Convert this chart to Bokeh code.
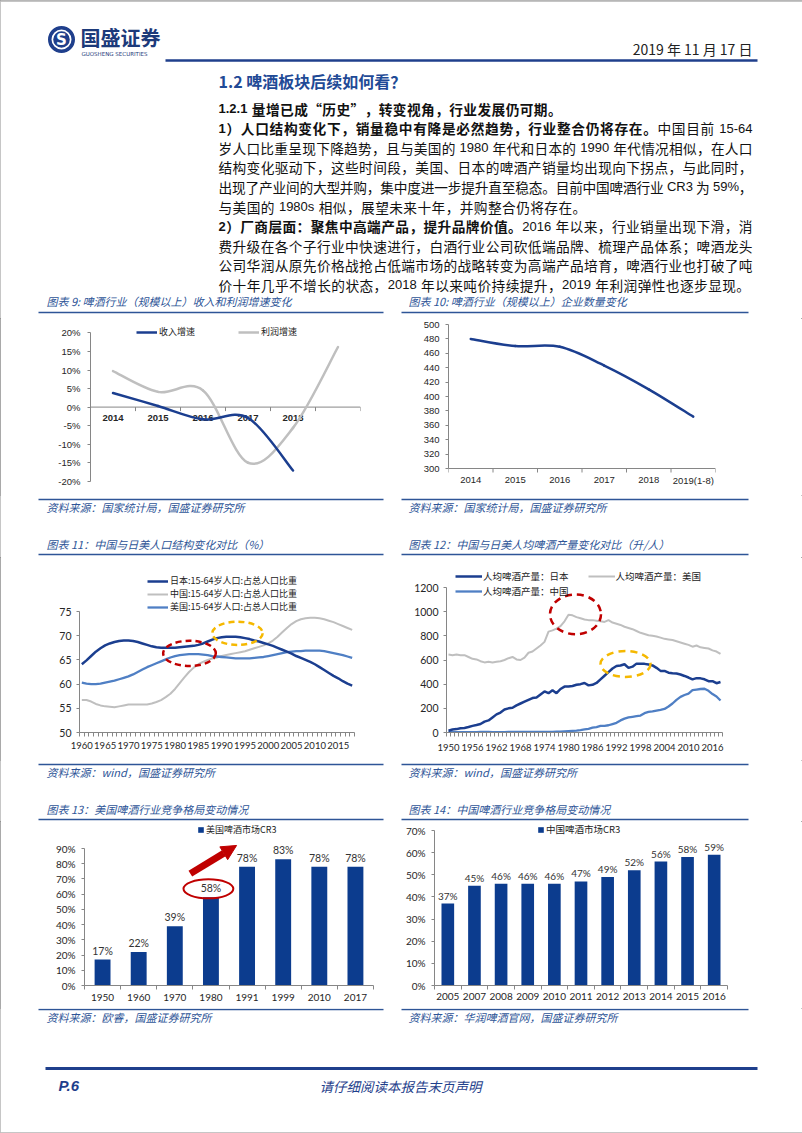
import re
from bokeh.plotting import figure
from bokeh.models import (Range1d, FixedTicker, Span, Legend, LegendItem, Arrow,
                          NormalHead, PrintfTickFormatter)
from bokeh.layouts import column, row
from bokeh.embed import file_html
from bokeh.resources import INLINE
from bokeh.core.properties import value

# ============================ DATA ============================
C9_CATS = ["2014", "2015", "2016", "2017", "2018", ""]
C9_REVENUE = [3.8, 0.3, -3.3, -2.9, -17.1]
C9_PROFIT = [9.7, 4.1, 4.5, -15.0, -5.6, 16.2]
C9_YTICKS = [-20, -15, -10, -5, 0, 5, 10, 15, 20]

C10_CATS = ["2014", "2015", "2016", "2017", "2018", "2019(1-8)"]
C10_FIRMS = [480, 470, 469, 443, 410, 372]
C10_YTICKS = [300, 320, 340, 360, 380, 400, 420, 440, 460, 480, 500]

C11_YEARS = list(range(1960, 2019))
C11_JAPAN = [64.1, 64.9, 65.8, 66.7, 67.4, 68.0, 68.4, 68.7, 68.9, 69.0,
             69.0, 68.9, 68.7, 68.4, 68.1, 67.8, 67.6, 67.5, 67.5, 67.5,
             67.5, 67.6, 67.7, 67.8, 67.9, 68.1, 68.4, 68.8, 69.2, 69.5,
             69.7, 69.8, 69.8, 69.8, 69.7, 69.5, 69.3, 69.0, 68.8, 68.5,
             68.2, 67.9, 67.5, 67.1, 66.7, 66.3, 65.8, 65.4, 65.0, 64.6,
             64.1, 63.5, 62.9, 62.3, 61.7, 61.2, 60.6, 60.1, 59.7]
C11_CHINA = [56.7, 56.7, 56.4, 55.9, 55.6, 55.4, 55.3, 55.2, 55.4, 55.6,
             55.8, 55.8, 55.8, 55.8, 55.8, 56.0, 56.3, 56.7, 57.3, 58.0,
             59.0, 60.2, 61.4, 62.5, 63.4, 64.1, 64.6, 65.0, 65.3, 65.5,
             65.8, 66.0, 66.2, 66.4, 66.6, 66.8, 67.1, 67.4, 67.7, 68.0,
             68.4, 69.0, 69.8, 70.7, 71.6, 72.4, 73.0, 73.4, 73.6, 73.7,
             73.7, 73.6, 73.4, 73.1, 72.8, 72.4, 72.0, 71.6, 71.2]
C11_USA = [60.3, 60.1, 60.0, 60.0, 60.1, 60.3, 60.5, 60.7, 61.0, 61.3,
           61.6, 62.0, 62.5, 63.0, 63.5, 63.9, 64.3, 64.7, 65.1, 65.5,
           65.8, 66.0, 66.1, 66.2, 66.2, 66.2, 66.1, 66.0, 65.8, 65.7,
           65.6, 65.5, 65.4, 65.3, 65.3, 65.3, 65.3, 65.4, 65.5, 65.6,
           65.8, 66.0, 66.2, 66.4, 66.6, 66.7, 66.8, 66.8, 66.9, 66.9,
           66.9, 66.9, 66.8, 66.6, 66.4, 66.2, 66.0, 65.7, 65.4]
C11_XTICKS = [1960, 1965, 1970, 1975, 1980, 1985, 1990, 1995, 2000, 2005, 2010, 2015]
C11_YTICKS = [50, 55, 60, 65, 70, 75]

C12_YEARS = list(range(1950, 2019))
C12_JAPAN = [15, 25, 28, 35, 38, 45, 55, 62, 70, 90,
             100, 125, 150, 165, 190, 200, 205, 225, 240, 255,
             270, 285, 290, 315, 340, 325, 350, 325, 360, 380,
             380, 385, 395, 400, 410, 390, 395, 410, 440, 470,
             500, 530, 550, 555, 565, 535, 545, 570, 570, 568,
             562, 555, 535, 510, 510, 495, 490, 488, 480, 468,
             455, 440, 450, 448, 440, 425, 425, 408, 418]
C12_USA = [645, 640, 645, 640, 640, 625, 610, 605, 590, 580,
           585, 580, 585, 590, 600, 615, 625, 605, 600, 620,
           660, 670, 695, 720, 750, 835, 845, 860, 880, 920,
           975, 970, 955, 945, 935, 930, 930, 925, 920, 915,
           930, 910, 900, 890, 875, 865, 855, 840, 825, 815,
           805, 800, 795, 785, 775, 770, 765, 755, 745, 735,
           725, 710, 720, 705, 700, 695, 680, 670, 650]
C12_CHINA = [2, 2, 3, 3, 3, 3, 3, 3, 4, 4,
             4, 3, 3, 3, 3, 4, 4, 4, 4, 4,
             4, 5, 5, 5, 6, 6, 6, 7, 8, 10,
             12, 14, 16, 20, 25, 30, 40, 45, 55, 55,
             60, 70, 80, 100, 115, 125, 130, 135, 140, 160,
             170, 175, 182, 188, 195, 215, 240, 270, 295, 310,
             322, 350, 355, 360, 362, 345, 318, 298, 265]
C12_XTICKS = [1950, 1956, 1962, 1968, 1974, 1980, 1986, 1992, 1998, 2004, 2010, 2016]
C12_YTICKS = [0, 200, 400, 600, 800, 1000, 1200]

C13_CATS = ["1950", "1960", "1970", "1980", "1991", "1999", "2010", "2017"]
C13_CR3 = [17, 22, 39, 58, 78, 83, 78, 78]
C13_YTICKS = [0, 10, 20, 30, 40, 50, 60, 70, 80, 90]

C14_CATS = ["2005", "2007", "2008", "2009", "2010", "2011", "2012", "2013", "2014", "2015", "2016"]
C14_CR3 = [37, 45, 46, 46, 46, 47, 49, 52, 56, 58, 59]
C14_YTICKS = [0, 10, 20, 30, 40, 50, 60, 70]

# ============================ STYLE ============================
CJK = "Noto Sans CJK SC"
NUM = "Liberation Sans"
NUM2 = "Lato"
NAVY = "#1B3E8F"
BAR = "#0C3C8E"
GRAY = "#BFBFBF"
MID = "#4F7FC4"
TBLUE = "#2E5597"
HBLUE = "#1F3F8C"
AXIS = "#868686"
LBL = "#262626"
RED = "#C00000"
YEL = "#F5B800"
PAGE_EDGE = "#8C8C8C"

W = 802
LW = 396          # left column width
RW = W - LW       # right column width

# annotation placements (data units of each chart)
C11_ELLIPSES = [(1983.1, 66.35, 11.3, 5.2, RED), (1993.4, 70.5, 10.8, 4.8, YEL)]
C12_ELLIPSES = [(1981.75, 978, 12.75, 329, RED), (1994.25, 567, 12.5, 214, YEL)]
C13_ELLIPSE = (2.93, 63.5, 1.38, 12.5)
C13_ARROW = (2.43, 73.5, 3.71, 92.0)


def deco_fig(y0, h):
    p = figure(width=W, height=h, x_range=Range1d(0, W), y_range=Range1d(y0 + h, y0),
               x_axis_type=None, y_axis_type=None, title=None,
               output_backend="svg", toolbar_location=None, min_border=0,
               outline_line_color=None)
    return p


def txt(p, x, y, s, size, color="#111111", font=CJK, style="normal", align="left"):
    p.text(x=[x], y=[y], text=[s], text_font=value(font), text_font_size=size,
           text_color=color, text_font_style=style, text_align=align, text_baseline="middle")


def hline(p, x0, x1, y, color, width):
    p.segment(x0=[x0], y0=[y], x1=[x1], y1=[y], line_color=color, line_width=width)


def yrange(frame, v0, px0, ppu):
    L, T, R, B = frame
    return (v0 + (px0 - B) / ppu, v0 + (px0 - T) / ppu)


def chart_fig(fx, fy, fw, fh, frame, xr, yr):
    L, T, R, B = frame
    p = figure(width=fw, height=fh, x_range=Range1d(*xr), y_range=Range1d(*yr), title=None,
               output_backend="svg", toolbar_location=None,
               min_border_left=L - fx, min_border_right=fx + fw - R,
               min_border_top=T - fy, min_border_bottom=fy + fh - B,
               outline_line_color=None)
    p.xgrid.visible = False
    p.ygrid.visible = False
    return p


def style_y(p, ticks, bounds, font, size, fmt=None, standoff=6):
    ax = p.yaxis[0]
    ax.ticker = FixedTicker(ticks=ticks)
    ax.bounds = bounds
    if fmt:
        ax.formatter = PrintfTickFormatter(format=fmt)
    ax.axis_line_color = AXIS
    ax.major_tick_line_color = AXIS
    ax.major_tick_out = 3
    ax.major_tick_in = 0
    ax.minor_tick_line_color = None
    ax.major_label_text_font = font
    ax.major_label_text_font_size = size
    ax.major_label_text_color = LBL
    ax.major_label_standoff = standoff


def style_x(p, ticks, minor, overrides, font, size, standoff, style="normal"):
    ax = p.xaxis[0]
    ax.ticker = FixedTicker(ticks=ticks, minor_ticks=minor)
    if overrides:
        ax.major_label_overrides = overrides
    ax.axis_line_color = AXIS
    ax.major_tick_out = 0
    ax.major_tick_in = 0
    ax.major_tick_line_color = None
    ax.minor_tick_line_color = AXIS
    ax.minor_tick_out = 4
    ax.minor_tick_in = 0
    ax.major_label_text_font = font
    ax.major_label_text_font_size = size
    ax.major_label_text_color = LBL
    ax.major_label_text_font_style = style
    ax.major_label_standoff = standoff


def manual_xaxis(p, cats, base, ppu, offset, font, size, style="normal"):
    """Category axis drawn at a data level inside the frame (line, boundary ticks, labels)."""
    p.xaxis[0].visible = False
    n = len(cats)
    p.add_layout(Span(location=base, dimension="width", line_color=AXIS, line_width=1, level="underlay"))
    bnd = [i - 0.5 for i in range(n + 1)]
    p.segment(x0=bnd, y0=[base] * len(bnd), x1=bnd, y1=[base - 4.0 / ppu] * len(bnd),
              line_color=AXIS, line_width=1, level="underlay")
    p.text(x=list(range(n)), y=[base] * n, text=cats, y_offset=offset,
           text_font=value(font), text_font_size=size, text_font_style=style, text_color=LBL,
           text_align="center", text_baseline="middle")


def smooth(xs, ys):
    n = len(xs)
    out = {k: [] for k in ("x0", "y0", "x1", "y1", "cx0", "cy0", "cx1", "cy1")}
    for i in range(n - 1):
        xp, yp = (xs[i - 1], ys[i - 1]) if i > 0 else (xs[i], ys[i])
        xq, yq = (xs[i + 2], ys[i + 2]) if i + 2 < n else (xs[i + 1], ys[i + 1])
        out["x0"].append(xs[i]); out["y0"].append(ys[i])
        out["x1"].append(xs[i + 1]); out["y1"].append(ys[i + 1])
        out["cx0"].append(xs[i] + (xs[i + 1] - xp) / 6.0)
        out["cy0"].append(ys[i] + (ys[i + 1] - yp) / 6.0)
        out["cx1"].append(xs[i + 1] - (xq - xs[i]) / 6.0)
        out["cy1"].append(ys[i + 1] - (yq - ys[i]) / 6.0)
    return out


def legend(p, items, frame, px, py_bottom, orientation="vertical", glyph_w=21, glyph_h=10,
           label_h=10, spacing=0, size="9px", standoff=2):
    L, T, R, B = frame
    lg = Legend(items=items, location=(px - L, B - py_bottom), orientation=orientation,
                glyph_width=glyph_w, glyph_height=glyph_h, label_height=label_h,
                label_standoff=standoff, spacing=spacing, padding=0, margin=0,
                border_line_color=None, background_fill_alpha=0,
                label_text_font=CJK, label_text_font_size=size, label_text_color="#222222")
    p.add_layout(lg)


# ---------- justified paragraph typesetting ----------
CJK_PX = 13.7
LAT_PX = 13.0
LAT_W = {c: 0.556 for c in "0123456789"}
LAT_W.update({" ": 0.278, "-": 0.333, "%": 0.889, "C": 0.722, "R": 0.722, "s": 0.5, ".": 0.278})


def tokenize(s, bold):
    out = []
    i = 0
    while i < len(s):
        ch = s[i]
        if ord(ch) < 128:
            j = i
            while j < len(s) and ord(s[j]) < 128:
                j += 1
            for part in re.split(r"( )", s[i:j]):
                if part == "":
                    continue
                if part == " ":
                    out.append((None, LAT_W[" "] * LAT_PX, "lat", bold))
                else:
                    out.append((part, sum(LAT_W.get(c, 0.556) for c in part) * LAT_PX, "lat", bold))
            i = j
        else:
            out.append((ch, CJK_PX, "cjk", bold))
            i += 1
    return out


def typeset(p, x0, x1, y, parts, justify, natural_gap=0.4):
    els = []
    for s, bold in parts:
        els += tokenize(s, bold)
    total = sum(e[1] for e in els)
    gap = (x1 - x0 - total) / (len(els) - 1) if justify else natural_gap
    groups = {}
    x = x0
    for t, w, kind, bold in els:
        if t is not None:
            groups.setdefault((kind, bold), ([], []))
            groups[(kind, bold)][0].append(x)
            groups[(kind, bold)][1].append(t)
        x += w + gap
    for (kind, bold), (xs, ts) in groups.items():
        p.text(x=xs, y=[y] * len(xs), text=ts,
               text_font=value(CJK if kind == "cjk" else NUM),
               text_font_size=f"{CJK_PX if kind == 'cjk' else LAT_PX}px",
               text_font_style="bold" if bold else "normal", text_color="#111111",
               text_align="left", text_baseline="middle")


# ============================ D1: header + text ============================
d1 = deco_fig(0, 318)
hline(d1, 0, W, 0.5, PAGE_EDGE, 1)
# logo
d1.annulus(x=[61], y=[39], inner_radius=10, outer_radius=13.5, fill_color=HBLUE, line_color=None)
d1.circle(x=[61], y=[39], radius=8.3, fill_color=HBLUE, line_color=None)
txt(d1, 61, 39.5, "S", "15px", color="white", font="DejaVu Sans", style="bold", align="center")
txt(d1, 80, 37, "国盛证券", "20px", color="#1C3A7A", style="bold")
txt(d1, 81, 53, "GUOSHENG SECURITIES", "5.5px", color="#1C3A7A", font="DejaVu Sans")
txt(d1, 752, 48, "2019 年 11 月 17 日", "14px", color="#222222", align="right")
hline(d1, 165, 757, 60, HBLUE, 2.5)
txt(d1, 218, 80, "1.2 啤酒板块后续如何看？", "16px", color="#1F4A96", style="bold")

LINE_Y0, LINE_DY = 108, 19.6
TX0, TX1 = 218, 752
para = [
    ([("1.2.1 量增已成“历史”，转变视角，行业发展仍可期。", True)], False),
    ([("1）人口结构变化下，销量稳中有降是必然趋势，行业整合仍将存在。", True),
      ("中国目前 15-64", False)], True),
    ([("岁人口比重呈现下降趋势，且与美国的 1980 年代和日本的 1990 年代情况相似，在人口", False)], True),
    ([("结构变化驱动下，这些时间段，美国、日本的啤酒产销量均出现向下拐点，与此同时，", False)], True),
    ([("出现了产业间的大型并购，集中度进一步提升直至稳态。目前中国啤酒行业 CR3 为 59%，", False)], True),
    ([("与美国的 1980s 相似，展望未来十年，并购整合仍将存在。", False)], False),
    ([("2）厂商层面：聚焦中高端产品，提升品牌价值。", True),
      ("2016 年以来，行业销量出现下滑，消", False)], True),
    ([("费升级在各个子行业中快速进行，白酒行业公司砍低端品牌、梳理产品体系；啤酒龙头", False)], True),
    ([("公司华润从原先价格战抢占低端市场的战略转变为高端产品培育，啤酒行业也打破了吨", False)], True),
    ([("价十年几乎不增长的状态，2018 年以来吨价持续提升，2019 年利润弹性也逐步显现。", False)], False),
]
for i, (parts, just) in enumerate(para):
    typeset(d1, TX0, TX1, LINE_Y0 + LINE_DY * i, parts, just)

txt(d1, 46, 300, "图表 9: 啤酒行业（规模以上）收入和利润增速变化", "11px", color=TBLUE, style="italic")
txt(d1, 408, 300, "图表 10: 啤酒行业（规模以上）企业数量变化", "11px", color=TBLUE, style="italic")
hline(d1, 38, 383, 312, TBLUE, 1.5)
hline(d1, 401, 748, 312, TBLUE, 1.5)

# ============================ Row 1 (y 318 - 495) ============================
R1_Y, R1_H, R1_T, R1_B = 318, 177, 322, 485

# ---- Chart 9 ----
F9 = (90, R1_T, 360, R1_B)
PPU9 = 3.71
p9 = chart_fig(0, R1_Y, LW, R1_H, F9, (-0.5, len(C9_CATS) - 0.5), yrange(F9, 0, 406.6, PPU9))
style_y(p9, C9_YTICKS, (-20, 20), NUM, "9.5px", fmt="%d%%", standoff=7)
manual_xaxis(p9, C9_CATS, 0, PPU9, 11, NUM, "9.5px", style="bold")
b = smooth(list(range(len(C9_PROFIT))), C9_PROFIT)
p9.bezier(**b, line_color=GRAY, line_width=2.5, line_cap="round")
b = smooth(list(range(len(C9_REVENUE))), C9_REVENUE)
p9.bezier(**b, line_color=NAVY, line_width=2.5, line_cap="round")
# single-point line renderers: invisible in the plot, used as legend samples
l9a = p9.line(x=[0], y=[C9_REVENUE[0]], line_color=NAVY, line_width=2.5)
l9b = p9.line(x=[0], y=[C9_PROFIT[0]], line_color=GRAY, line_width=2.5)
legend(p9, [LegendItem(label="收入增速", renderers=[l9a]), LegendItem(label="利润增速", renderers=[l9b])],
       F9, 136, 338, orientation="horizontal", glyph_w=21, spacing=43)

# ---- Chart 10 ----
F10 = (448, R1_T, 715, R1_B)
PPU10 = 0.72
p10 = chart_fig(LW, R1_Y, RW, R1_H, F10, (-0.5, len(C10_CATS) - 0.5), yrange(F10, 300, 468, PPU10))
style_y(p10, C10_YTICKS, (300, 500), NUM, "9.5px", standoff=6)
manual_xaxis(p10, C10_CATS, 300, PPU10, 11.5, NUM, "9.5px")
b = smooth(list(range(len(C10_FIRMS))), C10_FIRMS)
p10.bezier(**b, line_color=NAVY, line_width=2.5, line_cap="round")

# ============================ D2 (495 - 557) ============================
d2 = deco_fig(495, 62)
hline(d2, 38, 383, 499, TBLUE, 1.5)
hline(d2, 401, 748, 499, TBLUE, 1.5)
txt(d2, 46, 506, "资料来源：国家统计局，国盛证券研究所", "11px", color=TBLUE, style="italic")
txt(d2, 408, 506, "资料来源：国家统计局，国盛证券研究所", "11px", color=TBLUE, style="italic")
txt(d2, 46, 543, "图表 11：中国与日美人口结构变化对比（%）", "11px", color=TBLUE, style="italic")
txt(d2, 408, 543, "图表 12：中国与日美人均啤酒产量变化对比（升/人）", "11px", color=TBLUE, style="italic")
hline(d2, 38, 383, 554, TBLUE, 1.5)
hline(d2, 401, 748, 554, TBLUE, 1.5)

# ============================ Row 2 (557 - 760) ============================
R2_Y, R2_H, R2_T, R2_B = 557, 203, 560, 732

# ---- Chart 11 ----
F11 = (79, R2_T, 354, R2_B)
p11 = chart_fig(0, R2_Y, LW, R2_H, F11, (C11_YEARS[0] - 0.5, C11_YEARS[-1] + 0.5),
                yrange(F11, 50, R2_B, (R2_B - 611) / 25.0))
style_y(p11, C11_YTICKS, (50, 75), NUM2, "10.5px", standoff=5)
style_x(p11, C11_XTICKS, [y - 0.5 for y in C11_YEARS] + [C11_YEARS[-1] + 0.5], None, NUM2, "9.5px", 5)
r11c = p11.line(C11_YEARS, C11_CHINA, line_color=GRAY, line_width=2)
r11u = p11.line(C11_YEARS, C11_USA, line_color=MID, line_width=2.3)
r11j = p11.line(C11_YEARS, C11_JAPAN, line_color=NAVY, line_width=2.5)
for (ex, ey, ew, eh, ec) in C11_ELLIPSES:
    p11.ellipse(x=[ex], y=[ey], width=[ew], height=[eh], fill_color=None, line_color=ec,
                line_width=2.5, line_dash="6 4")
legend(p11, [LegendItem(label="日本:15-64岁人口:占总人口比重", renderers=[r11j]),
             LegendItem(label="中国:15-64岁人口:占总人口比重", renderers=[r11c]),
             LegendItem(label="美国:15-64岁人口:占总人口比重", renderers=[r11u])],
       F11, 147, 613, glyph_w=21, glyph_h=12, label_h=12)

# ---- Chart 12 ----
F12 = (446, R2_T, 722, R2_B)
p12 = chart_fig(LW, R2_Y, RW, R2_H, F12, (C12_YEARS[0] - 0.5, C12_YEARS[-1] + 0.5),
                yrange(F12, 0, R2_B, (R2_B - 587) / 1200.0))
style_y(p12, C12_YTICKS, (0, 1200), NUM2, "10.5px", standoff=5)
style_x(p12, C12_XTICKS, [y - 0.5 for y in C12_YEARS] + [C12_YEARS[-1] + 0.5], None, NUM2, "9.5px", 7)
r12u = p12.line(C12_YEARS, C12_USA, line_color=GRAY, line_width=2)
r12c = p12.line(C12_YEARS, C12_CHINA, line_color=MID, line_width=2.3)
r12j = p12.line(C12_YEARS, C12_JAPAN, line_color=NAVY, line_width=2.5)
for (ex, ey, ew, eh, ec) in C12_ELLIPSES:
    p12.ellipse(x=[ex], y=[ey], width=[ew], height=[eh], fill_color=None, line_color=ec,
                line_width=2.5, line_dash="7 5")
legend(p12, [LegendItem(label="人均啤酒产量：日本", renderers=[r12j]),
             LegendItem(label="人均啤酒产量：美国", renderers=[r12u])],
       F12, 455, 583, orientation="horizontal", glyph_w=27, glyph_h=12, label_h=12, spacing=19,
       size="9.5px", standoff=1)
legend(p12, [LegendItem(label="人均啤酒产量：中国", renderers=[r12c])],
       F12, 455, 598, glyph_w=27, glyph_h=12, label_h=12, size="9.5px", standoff=1)

# ============================ D3 (760 - 821) ============================
d3 = deco_fig(760, 61)
hline(d3, 38, 383, 764, TBLUE, 1.5)
hline(d3, 401, 748, 764, TBLUE, 1.5)
txt(d3, 46, 771, "资料来源：wind，国盛证券研究所", "11px", color=TBLUE, style="italic")
txt(d3, 408, 771, "资料来源：wind，国盛证券研究所", "11px", color=TBLUE, style="italic")
txt(d3, 46, 808, "图表 13：美国啤酒行业竞争格局变动情况", "11px", color=TBLUE, style="italic")
txt(d3, 408, 808, "图表 14：中国啤酒行业竞争格局变动情况", "11px", color=TBLUE, style="italic")
hline(d3, 38, 383, 819, TBLUE, 1.5)
hline(d3, 401, 748, 819, TBLUE, 1.5)

# ============================ Row 3 (821 - 1008) ============================
R3_Y, R3_H, R3_T, R3_B = 821, 187, 822, 985

# ---- Chart 13 ----
F13 = (84, R3_T, 373, R3_B)
p13 = chart_fig(0, R3_Y, LW, R3_H, F13, (-0.5, len(C13_CATS) - 0.5),
                yrange(F13, 0, R3_B, (R3_B - 848) / 90.0))
style_y(p13, C13_YTICKS, (0, 90), NUM2, "10px", fmt="%d%%", standoff=6)
idx13 = list(range(len(C13_CATS)))
style_x(p13, idx13, [i - 0.5 for i in range(len(C13_CATS) + 1)],
        {i: c for i, c in enumerate(C13_CATS)}, NUM2, "10px", 4)
r13 = p13.vbar(x=idx13, top=C13_CR3, width=0.44, fill_color=BAR, line_color=None)
p13.text(x=idx13, y=C13_CR3, text=[f"{v}%" for v in C13_CR3], y_offset=-9,
         text_font=value(NUM2), text_font_size="10.5px", text_color="#333333",
         text_align="center", text_baseline="middle")
ex, ey, ew, eh = C13_ELLIPSE
p13.ellipse(x=[ex], y=[ey], width=[ew], height=[eh], fill_color=None, line_color=RED, line_width=2)
ax0, ay0, ax1, ay1 = C13_ARROW
p13.add_layout(Arrow(end=NormalHead(size=15, fill_color=RED, line_color=RED),
                     x_start=ax0, y_start=ay0, x_end=ax1, y_end=ay1,
                     line_color=RED, line_width=7))
legend(p13, [LegendItem(label="美国啤酒市场CR3", renderers=[r13])], F13, 197, 836,
       glyph_w=7, glyph_h=7, label_h=9, size="9px", standoff=2)

# ---- Chart 14 ----
F14 = (434, R3_T, 727, R3_B)
p14 = chart_fig(LW, R3_Y, RW, R3_H, F14, (-0.5, len(C14_CATS) - 0.5),
                yrange(F14, 0, R3_B, (R3_B - 830) / 70.0))
style_y(p14, C14_YTICKS, (0, 70), NUM2, "10px", fmt="%d%%", standoff=6)
idx14 = list(range(len(C14_CATS)))
style_x(p14, idx14, [i - 0.5 for i in range(len(C14_CATS) + 1)],
        {i: c for i, c in enumerate(C14_CATS)}, NUM2, "10px", 3)
r14 = p14.vbar(x=idx14, top=C14_CR3, width=0.475, fill_color=BAR, line_color=None)
p14.text(x=idx14, y=C14_CR3, text=[f"{v}%" for v in C14_CR3], y_offset=-8,
         text_font=value(NUM2), text_font_size="10px", text_color="#333333",
         text_align="center", text_baseline="middle")
legend(p14, [LegendItem(label="中国啤酒市场CR3", renderers=[r14])], F14, 537, 836,
       glyph_w=7, glyph_h=7, label_h=9, size="9.5px", standoff=2)

# ============================ D4: sources + footer (1008 - 1133) ============================
d4 = deco_fig(1008, 125)
hline(d4, 38, 383, 1009, TBLUE, 1.5)
hline(d4, 401, 748, 1009, TBLUE, 1.5)
txt(d4, 46, 1016, "资料来源：欧睿，国盛证券研究所", "11px", color=TBLUE, style="italic")
txt(d4, 408, 1016, "资料来源：华润啤酒官网，国盛证券研究所", "11px", color=TBLUE, style="italic")
hline(d4, 45, 757, 1068, HBLUE, 3)
txt(d4, 58, 1085, "P.6", "15px", color=HBLUE, font=NUM, style="bold italic")
txt(d4, 400, 1085, "请仔细阅读本报告末页声明", "13.5px", color=HBLUE, style="italic", align="center")
hline(d4, 0, W, 1132.5, PAGE_EDGE, 1)

layout = column(
    d1,
    row(p9, p10, spacing=0),
    d2,
    row(p11, p12, spacing=0),
    d3,
    row(p13, p14, spacing=0),
    d4,
    spacing=0,
    styles={"outline": f"1px solid {PAGE_EDGE}", "outline-offset": "-1px"},
)

with open("out.html", "w") as f:
    f.write(file_html(layout, INLINE))
